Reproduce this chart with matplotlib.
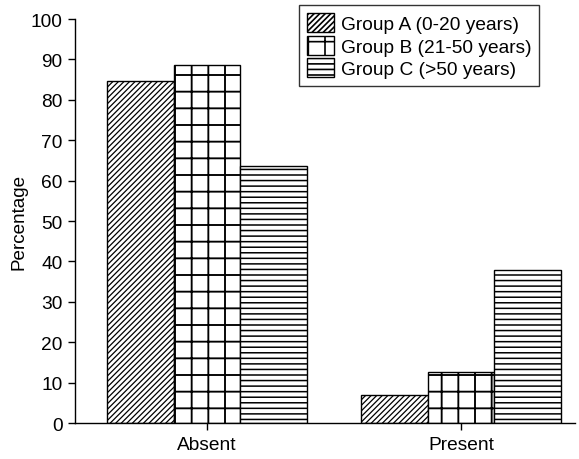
import numpy as np
import matplotlib
matplotlib.use("Agg")
from matplotlib import pyplot as plt

plt.rcParams['font.family'] = ['Liberation Sans', 'DejaVu Sans']
plt.rcParams['hatch.linewidth'] = 1.0
plt.rcParams['hatch.color'] = '#222222'

categories = ["Absent", "Present"]
groups = ["Group A (0-20 years)", "Group B (21-50 years)", "Group C (>50 years)"]
group_a = [84.6, 6.9]
group_b = [88.5, 12.6]
group_c = [63.6, 37.9]
hatches = ["//////", "+", "---"]
hatch_lw = [0.9, 1.35, 1.1]

fig = plt.figure(figsize=(5.79, 4.60), dpi=100)
ax = fig.add_axes([0.1295, 0.078, 0.864, 0.8785])

x = np.arange(len(categories))
width = 0.262
for k, vals in enumerate([group_a, group_b, group_c]):
    bars = ax.bar(x + (k - 1) * width, vals, width, color="white", edgecolor="black",
                  linewidth=1.0, hatch=hatches[k], label=groups[k])
    for p in bars:
        if hasattr(p, "set_hatch_linewidth"):
            p.set_hatch_linewidth(hatch_lw[k])

ax.set_xlim(-0.52, 1.45)
ax.set_ylim(0, 100)
ax.set_yticks(np.arange(0, 101, 10))
ax.set_xticks(x)
ax.set_xticklabels(categories)
ax.set_ylabel("Percentage", fontsize=13.6, labelpad=2)

for s in ["top", "right"]:
    ax.spines[s].set_visible(False)
ax.spines["left"].set_linewidth(1.0)
ax.spines["bottom"].set_linewidth(1.0)
ax.tick_params(axis="both", direction="out", length=5, width=1.0, labelsize=13.8, pad=4)

leg = ax.legend(loc="upper left", bbox_to_anchor=(299 / 579, 1 - 6 / 460),
                bbox_transform=fig.transFigure, fontsize=13.8, frameon=True,
                fancybox=False, edgecolor="black", handlelength=1.45,
                handleheight=1.15, handletextpad=0.35, borderpad=0.4,
                labelspacing=0.15, borderaxespad=0)
leg.get_frame().set_linewidth(1.0)
for h in leg.legend_handles:
    if hasattr(h, "set_hatch_linewidth"):
        h.set_hatch_linewidth(1.2)

plt.savefig("out.png", dpi=100)
